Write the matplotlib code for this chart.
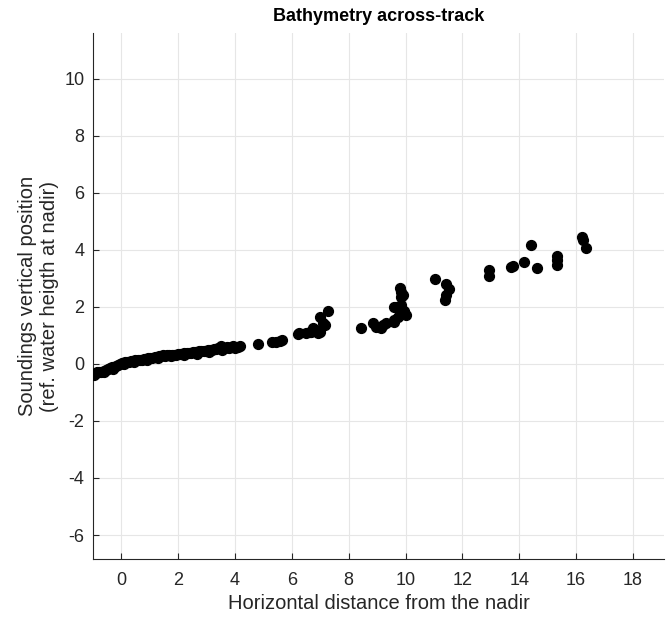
import numpy as np
import matplotlib.pyplot as plt

plt.rcParams['font.family'] = ['Liberation Sans', 'DejaVu Sans']
plt.rcParams['axes.unicode_minus'] = False

# dense band of soundings close to the nadir
band_x = [-0.97, -0.9, -0.85, -0.78, -0.7, -0.62, -0.55, -0.48, -0.4, -0.33, -0.25, -0.18, -0.1,
          -0.05, 0.02, 0.08, 0.15, 0.2, 0.28, 0.35, 0.42, 0.5, 0.58, 0.65, 0.72, 0.8, 0.88, 0.95,
          1.02, 1.1, 1.18, 1.25, 1.32, 1.4, 1.48, 1.55, 1.62, 1.7, 1.78, 1.85, 1.92, 2.0, 2.08,
          2.15, 2.22, 2.3, 2.38, 2.45, 2.52, 2.6, 2.68, 2.75, 2.82, 2.9, 2.98, 3.05, 3.12, 3.2,
          3.28, 3.35, 3.42, 3.5, 3.58, 3.65, 3.72, 3.8, 3.88, 3.95, 4.02, 4.1, 4.18,
          -0.6, -0.3, 0.1, 0.45, 0.9, 1.3, 1.75, 2.2, 2.65, 3.1, 3.55, 4.0]
band_y = [-0.4, -0.32, -0.3, -0.28, -0.27, -0.25, -0.2, -0.18, -0.16, -0.12, -0.1, -0.06, -0.04,
          0.0, 0.02, 0.03, 0.05, 0.06, 0.08, 0.1, 0.1, 0.12, 0.13, 0.14, 0.15, 0.17, 0.17, 0.2,
          0.2, 0.22, 0.24, 0.25, 0.27, 0.27, 0.3, 0.29, 0.3, 0.32, 0.31, 0.33, 0.33, 0.35, 0.34,
          0.36, 0.37, 0.38, 0.37, 0.4, 0.41, 0.42, 0.41, 0.44, 0.45, 0.46, 0.47, 0.48, 0.5, 0.49,
          0.52, 0.53, 0.55, 0.62, 0.55, 0.57, 0.58, 0.57, 0.6, 0.62, 0.61, 0.6, 0.62,
          -0.3, -0.18, 0.0, 0.07, 0.13, 0.2, 0.27, 0.31, 0.36, 0.43, 0.5, 0.55]

# sparser soundings further out
far_x = [4.82, 5.29, 5.46, 5.58, 5.64, 6.22, 6.26, 6.51, 6.63, 6.69, 6.75, 6.91, 6.98, 6.98,
         6.98, 7.1, 7.16, 7.27,
         8.44, 8.85, 8.97, 9.15, 9.2, 9.32, 9.61, 9.61, 9.61, 9.67, 9.73, 9.79, 9.85, 9.85,
         9.85, 9.91, 9.96, 10.02, 9.96,
         11.05, 11.43, 11.54, 11.43, 11.37,
         12.92, 12.92, 13.71, 13.77, 14.15, 14.41, 14.64, 15.34, 15.34, 15.32,
         16.22, 16.25, 16.36]
far_y = [0.7, 0.78, 0.78, 0.82, 0.84, 1.05, 1.07, 1.09, 1.13, 1.12, 1.25, 1.07, 1.19, 1.13,
         1.65, 1.42, 1.36, 1.85,
         1.25, 1.42, 1.3, 1.25, 1.36, 1.42, 1.48, 1.54, 2.0, 2.0, 1.65, 2.65, 2.35, 2.53,
         2.06, 2.41, 1.77, 1.71, 1.85,
         2.97, 2.82, 2.61, 2.41, 2.24,
         3.29, 3.08, 3.4, 3.43, 3.58, 4.16, 3.37, 3.78, 3.64, 3.46,
         4.45, 4.34, 4.05]

x = np.array(band_x + far_x)
y = np.array(band_y + far_y)

fig = plt.figure(figsize=(6.67, 6.19), dpi=100)
ax = fig.add_axes([0.139, 0.0965, 0.857, 0.85])

ax.scatter(x, y, s=50, color='black', zorder=3)

ax.set_xlim(-1, 19.1)
ax.set_ylim(-6.85, 11.6)
ax.set_xticks(np.arange(0, 19, 2))
ax.set_yticks(np.arange(-6, 11, 2))
ax.grid(True, color='#e6e6e6', linewidth=0.8)
ax.set_axisbelow(True)

for side in ['top', 'right']:
    ax.spines[side].set_visible(False)
for side in ['left', 'bottom']:
    ax.spines[side].set_color('#262626')
    ax.spines[side].set_linewidth(0.8)
ax.tick_params(direction='in', length=4, colors='#262626', labelsize=13)
ax.tick_params(axis='x', pad=9)
ax.tick_params(axis='y', pad=6)

ax.set_xlabel('Horizontal distance from the nadir', fontsize=14.5, color='#262626', labelpad=4)
ax.set_ylabel('Soundings vertical position\n(ref. water heigth at nadir)', fontsize=14.5,
              color='#262626', labelpad=4)
ax.set_title('Bathymetry across-track', fontsize=13, fontweight='bold', pad=9)

fig.savefig('out.png', dpi=100)
